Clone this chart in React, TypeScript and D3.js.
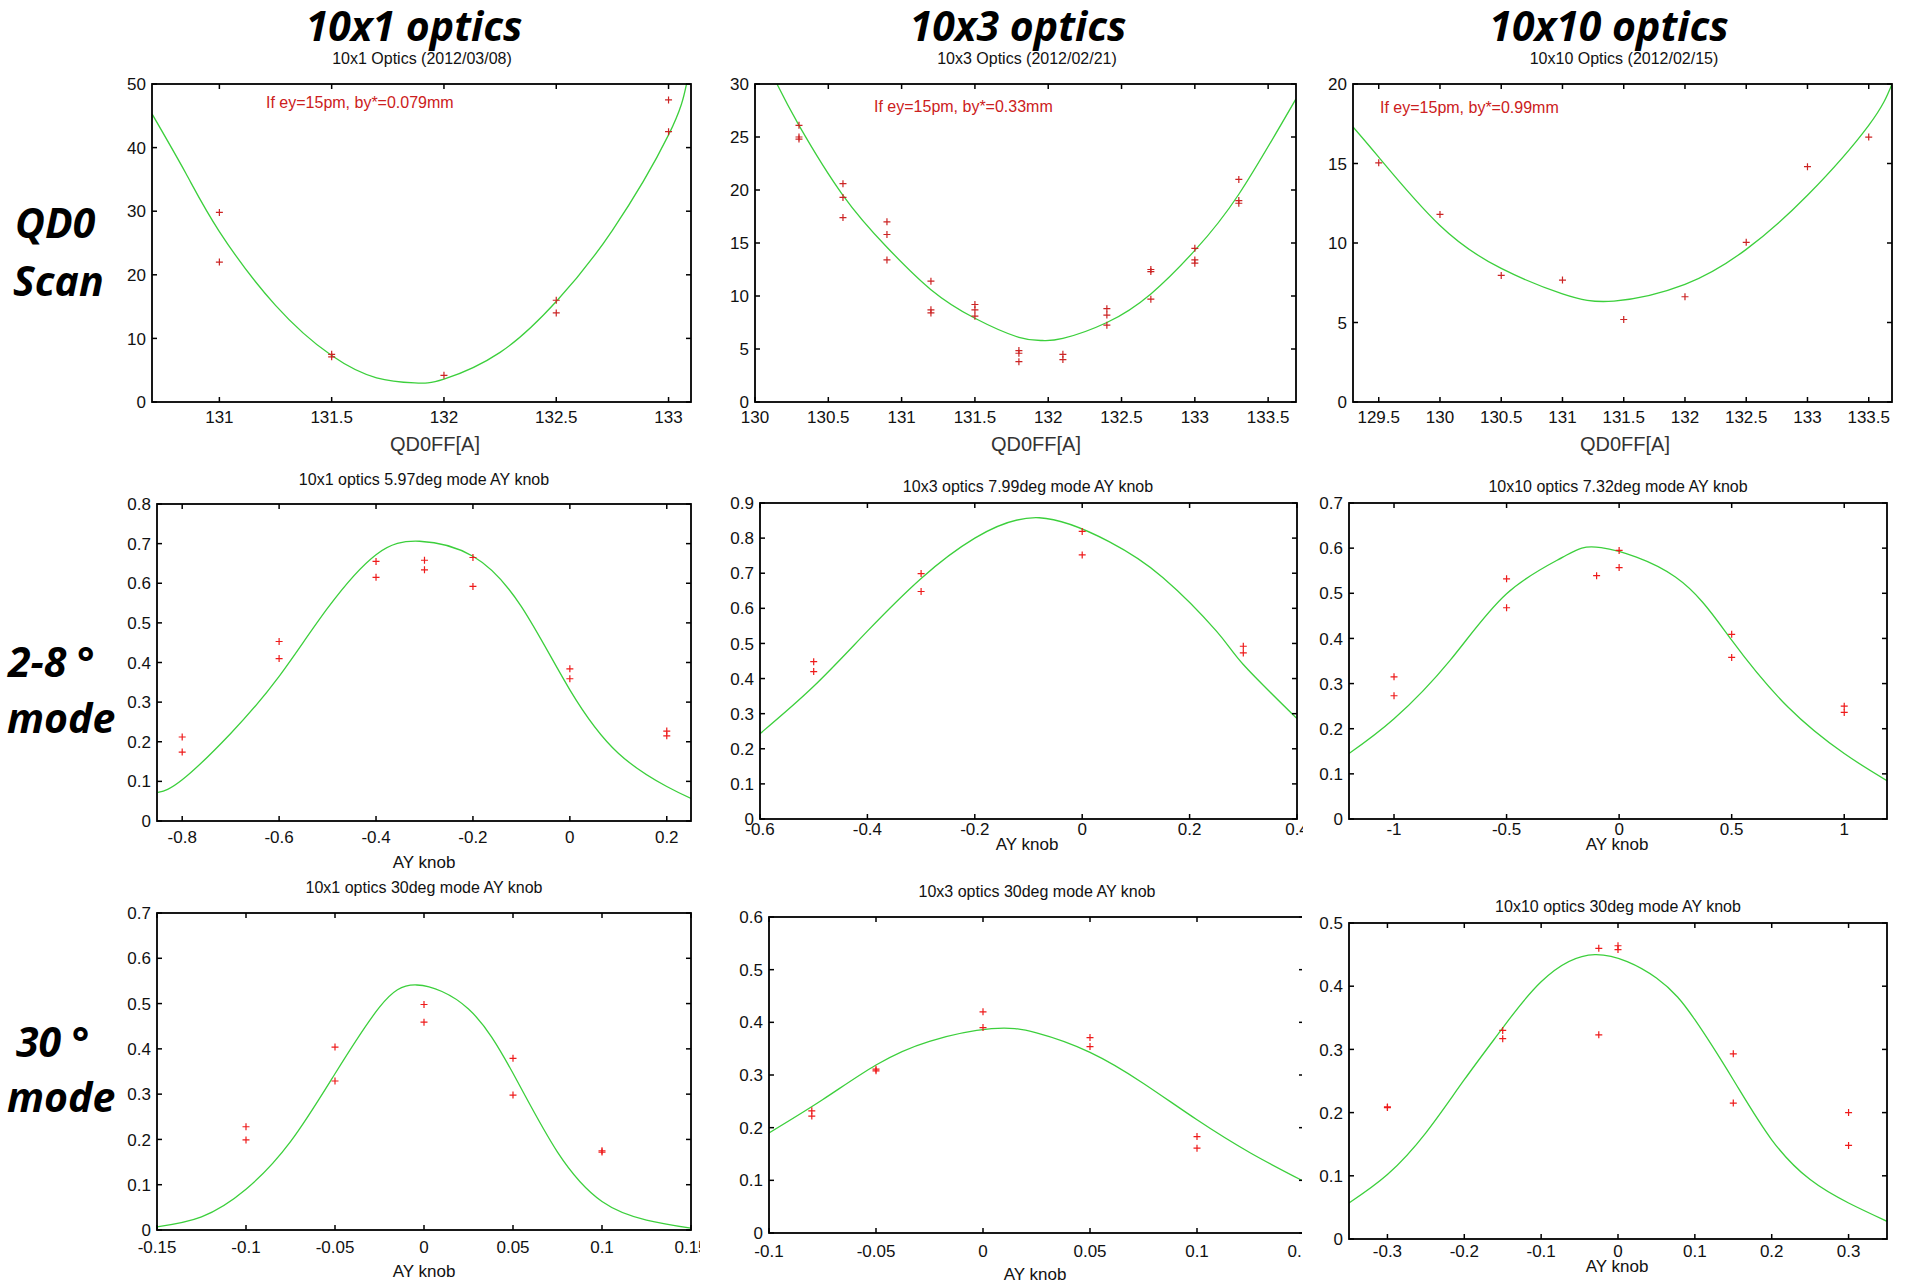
import React from "react";
import * as d3 from "d3";

type Pt = [number, number];

const W = 1910;
const H = 1286;

// column headers and row labels
const headers = ["10x1 optics", "10x3 optics", "10x10 optics"];
const scanTitles = ["10x1 Optics (2012/03/08)", "10x3 Optics (2012/02/21)", "10x10 Optics (2012/02/15)"];
const scanNotes = ["If ey=15pm, by*=0.079mm", "If ey=15pm, by*=0.33mm", "If ey=15pm, by*=0.99mm"];
const modeTitles = [
  "10x1 optics 5.97deg mode AY knob",
  "10x3 optics 7.99deg mode AY knob",
  "10x10 optics 7.32deg mode AY knob",
];
const mode30Titles = [
  "10x1 optics 30deg mode AY knob",
  "10x3 optics 30deg mode AY knob",
  "10x10 optics 30deg mode AY knob",
];
const rowLabels = [["QD0", "Scan"], ["2-8 °", "mode"], ["30 °", "mode"]];

// ---- QD0 scan (x: QD0FF current [A])
const scan1Pts: Pt[] = [[131, 29.8], [131, 22.0], [131.5, 7.5], [131.5, 7.1], [132, 4.2], [132.5, 16.0], [132.5, 14.0], [133, 47.5], [133, 42.5]];
const scan1Fit: Pt[] = [[130.7, 45.3], [130.85, 36.0], [131, 26.8], [131.25, 15.2], [131.5, 7.3], [131.7, 3.8], [131.87, 3.0], [132, 3.6], [132.25, 7.8], [132.5, 15.8], [132.75, 27.0], [133, 42.0], [133.08, 50]];

const scan3Pts: Pt[] = [
  [130.3, 26.1], [130.3, 25.0], [130.3, 24.8],
  [130.6, 20.6], [130.6, 19.3], [130.6, 17.4],
  [130.9, 17.0], [130.9, 15.8], [130.9, 13.4],
  [131.2, 11.4], [131.2, 8.7], [131.2, 8.4],
  [131.5, 9.2], [131.5, 8.7], [131.5, 8.1],
  [131.8, 4.85], [131.8, 4.6], [131.8, 3.8],
  [132.1, 4.5], [132.1, 4.0],
  [132.4, 8.8], [132.4, 8.2], [132.4, 7.25],
  [132.7, 12.5], [132.7, 12.3], [132.7, 9.7],
  [133.0, 14.5], [133.0, 13.4], [133.0, 13.1],
  [133.3, 21.0], [133.3, 19.0], [133.3, 18.75],
];
const scan3Fit: Pt[] = [[130.15, 30], [130.3, 26.1], [130.6, 19.5], [130.9, 14.6], [131.2, 10.6], [131.5, 7.9], [131.8, 6.1], [131.96, 5.8], [132.1, 6.0], [132.4, 7.5], [132.7, 10.2], [133.0, 14.3], [133.3, 19.6], [133.69, 28.6]];

const scan10Pts: Pt[] = [[129.5, 15.04], [130, 11.8], [130.5, 7.96], [131, 7.67], [131.5, 5.19], [132, 6.62], [132.5, 10.04], [133, 14.8], [133.5, 16.66]];
const scan10Fit: Pt[] = [[129.29, 17.3], [129.5, 15.4], [130, 11.1], [130.5, 8.4], [131, 6.8], [131.42, 6.35], [132, 7.4], [132.5, 9.6], [133, 13.0], [133.5, 17.4], [133.69, 20]];

// ---- 2-8 deg mode AY knob scans
const mode1Pts: Pt[] = [[-0.8, 0.212], [-0.8, 0.174], [-0.6, 0.453], [-0.6, 0.41], [-0.4, 0.655], [-0.4, 0.615], [-0.3, 0.658], [-0.3, 0.634], [-0.2, 0.665], [-0.2, 0.592], [0, 0.384], [0, 0.359], [0.2, 0.227], [0.2, 0.215]];
const mode1Fit: Pt[] = [[-0.85, 0.072], [-0.8, 0.104], [-0.7, 0.221], [-0.6, 0.365], [-0.5, 0.537], [-0.4, 0.672], [-0.31, 0.706], [-0.2, 0.668], [-0.1, 0.541], [0, 0.331], [0.1, 0.171], [0.2, 0.087], [0.25, 0.057]];

const mode3Pts: Pt[] = [[-0.5, 0.448], [-0.5, 0.42], [-0.3, 0.699], [-0.3, 0.648], [0, 0.819], [0, 0.752], [0.3, 0.492], [0.3, 0.473]];
const mode3Fit: Pt[] = [[-0.6, 0.243], [-0.5, 0.378], [-0.4, 0.535], [-0.3, 0.685], [-0.2, 0.8], [-0.08, 0.858], [0.05, 0.79], [0.15, 0.688], [0.25, 0.535], [0.3, 0.44], [0.4, 0.286]];

const mode10Pts: Pt[] = [[-1, 0.315], [-1, 0.273], [-0.5, 0.532], [-0.5, 0.468], [-0.1, 0.539], [0, 0.595], [0, 0.557], [0.5, 0.409], [0.5, 0.358], [1, 0.25], [1, 0.236]];
const mode10Fit: Pt[] = [[-1.2, 0.145], [-1, 0.222], [-0.75, 0.352], [-0.5, 0.499], [-0.25, 0.58], [-0.08, 0.601], [0.25, 0.536], [0.5, 0.396], [0.75, 0.248], [1, 0.145], [1.2, 0.082]];

// ---- 30 deg mode AY knob scans
const deg30x1Pts: Pt[] = [[-0.1, 0.228], [-0.1, 0.199], [-0.05, 0.404], [-0.05, 0.329], [0, 0.498], [0, 0.459], [0.05, 0.379], [0.05, 0.298], [0.1, 0.175], [0.1, 0.172]];
const deg30x1Fit: Pt[] = [[-0.15, 0.007], [-0.125, 0.029], [-0.1, 0.09], [-0.075, 0.195], [-0.05, 0.345], [-0.025, 0.492], [-0.004, 0.541], [0.025, 0.488], [0.05, 0.346], [0.075, 0.172], [0.1, 0.063], [0.125, 0.022], [0.15, 0.004]];

const deg30x3Pts: Pt[] = [[-0.08, 0.232], [-0.08, 0.222], [-0.05, 0.311], [-0.05, 0.308], [0, 0.42], [0, 0.39], [0.05, 0.371], [0.05, 0.354], [0.1, 0.183], [0.1, 0.161]];
const deg30x3Fit: Pt[] = [[-0.1, 0.19], [-0.075, 0.253], [-0.05, 0.319], [-0.025, 0.364], [0.004, 0.388], [0.025, 0.38], [0.05, 0.343], [0.075, 0.284], [0.1, 0.215], [0.125, 0.152], [0.15, 0.098]];

const deg30x10Pts: Pt[] = [[-0.3, 0.209], [-0.3, 0.208], [-0.15, 0.33], [-0.15, 0.317], [-0.025, 0.46], [-0.025, 0.323], [0, 0.464], [0, 0.458], [0.15, 0.293], [0.15, 0.215], [0.3, 0.2], [0.3, 0.148]];
const deg30x10Fit: Pt[] = [[-0.35, 0.057], [-0.3, 0.102], [-0.25, 0.168], [-0.2, 0.252], [-0.15, 0.334], [-0.1, 0.407], [-0.03, 0.45], [0.05, 0.413], [0.1, 0.347], [0.15, 0.252], [0.2, 0.157], [0.25, 0.094], [0.3, 0.057], [0.35, 0.028]];

// tick values
const scan1XTicks = [131, 131.5, 132, 132.5, 133];
const scan3XTicks = [130, 130.5, 131, 131.5, 132, 132.5, 133, 133.5];
const scan10XTicks = [129.5, 130, 130.5, 131, 131.5, 132, 132.5, 133, 133.5];
const mode1XTicks = [-0.8, -0.6, -0.4, -0.2, 0, 0.2];
const mode3XTicks = [-0.6, -0.4, -0.2, 0, 0.2, 0.4];
const mode10XTicks = [-1, -0.5, 0, 0.5, 1];
const deg30x1XTicks = [-0.15, -0.1, -0.05, 0, 0.05, 0.1, 0.15];
const deg30x3XTicks = [-0.1, -0.05, 0, 0.05, 0.1, 0.15];
const deg30x10XTicks = [-0.3, -0.2, -0.1, 0, 0.1, 0.2, 0.3];

const steps = (max: number, step: number) => d3.range(0, max + step / 2, step).map(v => +v.toFixed(3));

const FONT = "'Liberation Sans', Arial, Helvetica, sans-serif";
const BIG = "'Open Sans', 'Noto Sans', sans-serif";

const panels = [
  { pts: scan1Pts, fit: scan1Fit, xd: [130.7, 133.1], yd: [0, 50], xt: scan1XTicks, yt: steps(50, 10), box: { l: 152, r: 691, t: 84, b: 402 }, clipR: 700, xtY: 423,
    title: scanTitles[0], tX: 422, tY: 64, xlabel: "QD0FF[A]", xlX: 435, xlY: 451, note: scanNotes[0], nX: 266, nY: 108, mk: "#cc2424" },
  { pts: scan3Pts, fit: scan3Fit, xd: [130, 133.69], yd: [0, 30], xt: scan3XTicks, yt: steps(30, 5), box: { l: 755, r: 1296, t: 84, b: 402 }, clipR: 1303, xtY: 423,
    title: scanTitles[1], tX: 1027, tY: 64, xlabel: "QD0FF[A]", xlX: 1036, xlY: 451, note: scanNotes[1], nX: 874, nY: 112, mk: "#cc2424" },
  { pts: scan10Pts, fit: scan10Fit, xd: [129.29, 133.69], yd: [0, 20], xt: scan10XTicks, yt: steps(20, 5), box: { l: 1353, r: 1892, t: 84, b: 402 }, clipR: 1910, xtY: 423,
    title: scanTitles[2], tX: 1624, tY: 64, xlabel: "QD0FF[A]", xlX: 1625, xlY: 451, note: scanNotes[2], nX: 1380, nY: 113, mk: "#cc2424" },
  { pts: mode1Pts, fit: mode1Fit, xd: [-0.852, 0.25], yd: [0, 0.8], xt: mode1XTicks, yt: steps(0.8, 0.1), box: { l: 157, r: 691, t: 504, b: 821 }, clipR: 700, xtY: 843,
    title: modeTitles[0], tX: 424, tY: 485, xlabel: "AY knob", xlX: 424, xlY: 868, mk: "#ee1b1b" },
  { pts: mode3Pts, fit: mode3Fit, xd: [-0.6, 0.4], yd: [0, 0.9], xt: mode3XTicks, yt: steps(0.9, 0.1), box: { l: 760, r: 1297, t: 503, b: 819 }, clipR: 1303, xtY: 835,
    title: modeTitles[1], tX: 1028, tY: 492, xlabel: "AY knob", xlX: 1027, xlY: 850, mk: "#ee1b1b" },
  { pts: mode10Pts, fit: mode10Fit, xd: [-1.2, 1.19], yd: [0, 0.7], xt: mode10XTicks, yt: steps(0.7, 0.1), box: { l: 1349, r: 1887, t: 503, b: 819 }, clipR: 1910, xtY: 835,
    title: modeTitles[2], tX: 1618, tY: 492, xlabel: "AY knob", xlX: 1617, xlY: 850, mk: "#ee1b1b" },
  { pts: deg30x1Pts, fit: deg30x1Fit, xd: [-0.15, 0.15], yd: [0, 0.7], xt: deg30x1XTicks, yt: steps(0.7, 0.1), box: { l: 157, r: 691, t: 913, b: 1230 }, clipR: 700, xtY: 1253,
    title: mode30Titles[0], tX: 424, tY: 893, xlabel: "AY knob", xlX: 424, xlY: 1277, mk: "#ee1b1b" },
  { pts: deg30x3Pts, fit: deg30x3Fit, xd: [-0.1, 0.15], yd: [0, 0.6], xt: deg30x3XTicks, yt: steps(0.6, 0.1), box: { l: 769, r: 1304, t: 917, b: 1233 }, clipR: 1302, xtY: 1257,
    title: mode30Titles[1], tX: 1037, tY: 897, xlabel: "AY knob", xlX: 1035, xlY: 1280, mk: "#ee1b1b" },
  { pts: deg30x10Pts, fit: deg30x10Fit, xd: [-0.35, 0.35], yd: [0, 0.5], xt: deg30x10XTicks, yt: steps(0.5, 0.1), box: { l: 1349, r: 1887, t: 923, b: 1239 }, clipR: 1910, xtY: 1257,
    title: mode30Titles[2], tX: 1618, tY: 912, xlabel: "AY knob", xlX: 1617, xlY: 1272, mk: "#ee1b1b" },
];

const fmt = (v: number) => String(+v.toFixed(4));

const Panel = ({ p, i }: { p: any; i: number }) => {
  const { box } = p;
  const x = d3.scaleLinear().domain(p.xd).range([box.l, box.r]);
  const y = d3.scaleLinear().domain(p.yd).range([box.b, box.t]);
  const line = d3.line<Pt>().x(d => x(d[0])).y(d => y(d[1])).curve(d3.curveNatural);
  const tk = 5;
  const cellTop = box.t - 60;
  return (
    <g>
      <defs>
        <clipPath id={`plot${i}`}>
          <rect x={box.l} y={box.t} width={box.r - box.l} height={box.b - box.t} />
        </clipPath>
        <clipPath id={`cell${i}`}>
          <rect x={box.l - 80} y={cellTop} width={p.clipR - box.l + 80} height={box.b - cellTop + 80} />
        </clipPath>
      </defs>
      <g clipPath={`url(#cell${i})`}>
        {/* fit curve */}
        <path d={line(p.fit) || ""} fill="none" stroke="#3ccf3c" strokeWidth={1.3} clipPath={`url(#plot${i})`} />
        {/* measured points */}
        {p.pts.map((d: Pt, j: number) => (
          <path key={j} d={`M${x(d[0]) - 3.5},${y(d[1])}h7M${x(d[0])},${y(d[1]) - 3.5}v7`} stroke={p.mk} strokeWidth={1.2} />
        ))}
        {/* ticks on all four sides */}
        {p.xt.map((v: number) => (
          <g key={"x" + v}>
            <line x1={x(v)} x2={x(v)} y1={box.b} y2={box.b - tk} stroke="#000" strokeWidth={1.5} />
            <line x1={x(v)} x2={x(v)} y1={box.t} y2={box.t + tk} stroke="#000" strokeWidth={1.5} />
            <text x={x(v)} y={p.xtY} textAnchor="middle" fontSize={17} fontFamily={FONT} fill="#111">{fmt(v)}</text>
          </g>
        ))}
        {p.yt.map((v: number) => (
          <g key={"y" + v}>
            <line x1={box.l} x2={box.l + tk} y1={y(v)} y2={y(v)} stroke="#000" strokeWidth={1.5} />
            <line x1={box.r} x2={box.r - tk} y1={y(v)} y2={y(v)} stroke="#000" strokeWidth={1.5} />
            <text x={box.l - 6} y={y(v)} dy="0.36em" textAnchor="end" fontSize={17} fontFamily={FONT} fill="#111">{fmt(v)}</text>
          </g>
        ))}
        <rect x={box.l} y={box.t} width={box.r - box.l} height={box.b - box.t} fill="none" stroke="#000" strokeWidth={1.8} />
      </g>
      <text x={p.tX} y={p.tY} textAnchor="middle" fontSize={16} fontFamily={FONT} fill="#111">{p.title}</text>
      <text x={p.xlX} y={p.xlY} textAnchor="middle" fontSize={p.note ? 20 : 17} fontFamily={FONT} fill={p.note ? "#333" : "#111"}>{p.xlabel}</text>
      {p.note && (
        <text x={p.nX} y={p.nY} fontSize={16} fontFamily={FONT} fill="#cc2020">{p.note}</text>
      )}
    </g>
  );
};

const headerX = [414, 1018, 1609];
const rowLabelPos = [
  { x: [15, 13], y: [238, 296] },
  { x: [8, 7], y: [677, 733] },
  { x: [16, 7], y: [1057, 1112] },
];

export default function App() {
  return (
    <svg width={W} height={H} style={{ position: "absolute", left: 0, top: 0, background: "#fff" }}>
      <rect width={W} height={H} fill="#fff" />
      {headers.map((h, i) => (
        <text key={h} x={headerX[i]} y={41} textAnchor="middle" fontSize={41} fontWeight={700} fontStyle="italic" fontFamily={BIG} fill="#000">{h}</text>
      ))}
      {rowLabels.map((lines, r) => lines.map((s, k) => (
        <text key={r + "-" + k} x={rowLabelPos[r].x[k]} y={rowLabelPos[r].y[k]} fontSize={41} fontWeight={700} fontStyle="italic" fontFamily={BIG} fill="#000">{s}</text>
      )))}
      {panels.map((p, i) => <Panel key={i} p={p} i={i} />)}
    </svg>
  );
}
